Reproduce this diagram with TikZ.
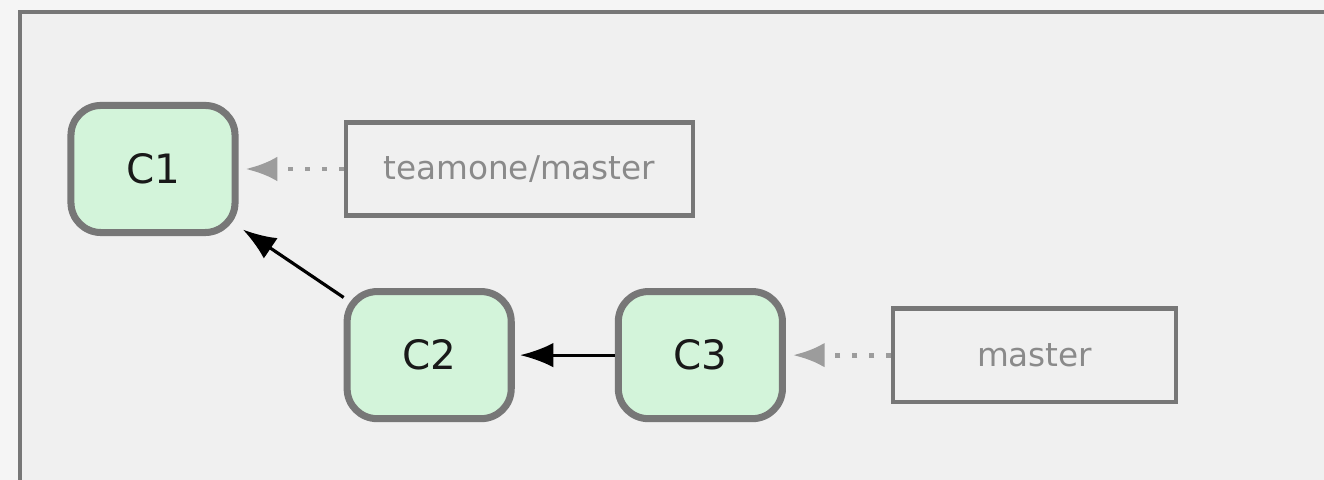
\documentclass[tikz,border=0pt]{standalone}
\usepackage{fontspec}
\setmainfont{DejaVu Sans}
\usepackage{tikz}
\usetikzlibrary{arrows.meta, positioning}

\definecolor{framegray}{HTML}{777777}
\definecolor{panelgray}{HTML}{F0F0F0}
\definecolor{pagegray}{HTML}{F5F5F5}
\definecolor{commitgreen}{HTML}{D3F4DA}
\definecolor{refgray}{HTML}{8A8A8A}

\begin{document}
\begin{tikzpicture}[
    x=0.01cm, y=-0.01cm, % 1 unit = 1 px of the reference
    commit/.style={rectangle, draw=framegray, line width=2pt, fill=commitgreen, rounded corners=0.3cm, minimum width=1.64cm, minimum height=1.27cm, text=black!90, font=\fontsize{11.5}{13}\selectfont},
    branch/.style={rectangle, draw=framegray, line width=1.2pt, fill=panelgray, minimum width=3.47cm, minimum height=0.93cm, text=refgray, font=\fontsize{9.3}{11}\selectfont},
    line/.style={draw, line width=0.9pt, shorten >=1.5pt, -{Latex[length=9.5pt,width=7pt]}},
    pointer/.style={draw=refgray!85, line width=1.4pt, dash pattern=on 1.4pt off 3.4pt, shorten >=2pt, -{Latex[length=9pt,width=7pt]}}
]
    % Frame
    \clip (0,0) rectangle (1324,480);
    \fill[pagegray] (0,0) rectangle (1324,480);
    \draw[framegray, line width=1.4pt, fill=panelgray] (20,12) rectangle (1360,520);

    % Commits
    \node [commit] (c1) at (153,169) {C1};
    \node [commit, below right=0.52cm and 1.05cm of c1] (c2) {C2};
    \node [commit, right=1.0cm of c2] (c3) {C3};

    % Branch labels
    \node [branch, right=1.05cm of c1] (teamone) {teamone/master};
    \node [branch, right=1.05cm of c3, minimum width=2.83cm] (master) {master};

    % Parent links
    \path [line] (c2) -- (c1);
    \path [line] (c3) -- (c2);

    % Branch pointers
    \path [pointer] (teamone) -- (c1);
    \path [pointer] (master) -- (c3);
\end{tikzpicture}
\end{document}
